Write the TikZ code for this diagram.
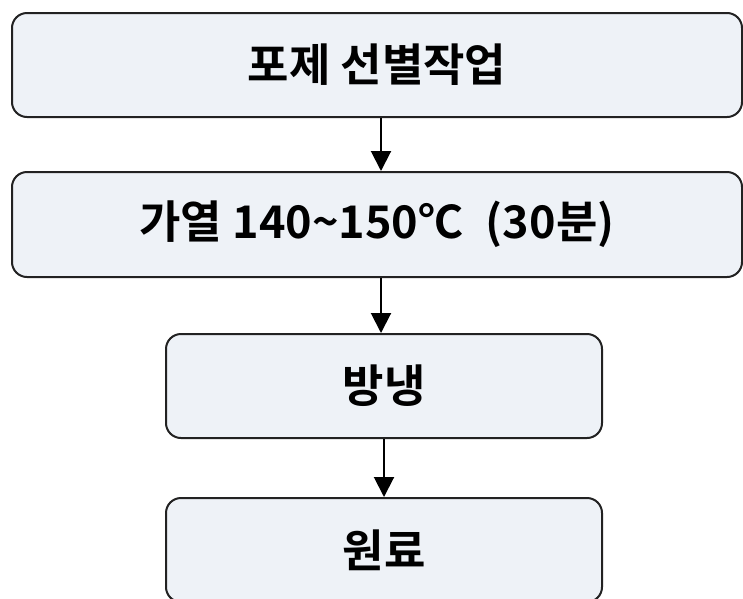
\documentclass[tikz,border=0pt]{standalone}
\usepackage{fontspec}
\setmainfont{Noto Sans CJK KR}[BoldFont={Noto Sans CJK KR Bold}]
\usetikzlibrary{arrows.meta}
\definecolor{boxfill}{HTML}{EEF2F7}
\definecolor{boxline}{HTML}{222222}
\newcommand{\lowered}[1]{\raisebox{-5pt}{#1}}
\tikzset{
  stepbox/.style={draw=boxline, line width=2pt, fill=boxfill, rounded corners=15pt,
    inner sep=0pt, font=\fontsize{45}{45}\selectfont\bfseries, text=black, anchor=center},
  flow/.style={draw=black, line width=2pt, -{Triangle[length=20pt,width=20pt]}}
}
\begin{document}
\begin{tikzpicture}[x=1pt,y=-1pt]
\useasboundingbox (0,0) rectangle (743,598);
\clip (0,0) rectangle (743,598);
\fill[white] (0,0) rectangle (743,598);
\node[stepbox, minimum width=730pt, minimum height=104pt] (A) at (377,65) {\lowered{포제 선별작업}};
\node[stepbox, minimum width=730pt, minimum height=105pt] (B) at (377,224.5) {\lowered{가열 140\textasciitilde150℃\hspace{0.5em}(30분)}};
\node[stepbox, minimum width=436pt, minimum height=104pt] (C) at (384,386) {\lowered{방냉}};
\node[stepbox, minimum width=436pt, minimum height=104pt] (D) at (384,550) {\lowered{원료}};
\draw[flow] ([xshift=4pt]A.south) -- ([xshift=4pt]B.north);
\draw[flow] ([xshift=4pt]B.south) -- ([xshift=4pt]C.north -| B.south);
\draw[flow] (C.south) -- (D.north);
\end{tikzpicture}
\end{document}
